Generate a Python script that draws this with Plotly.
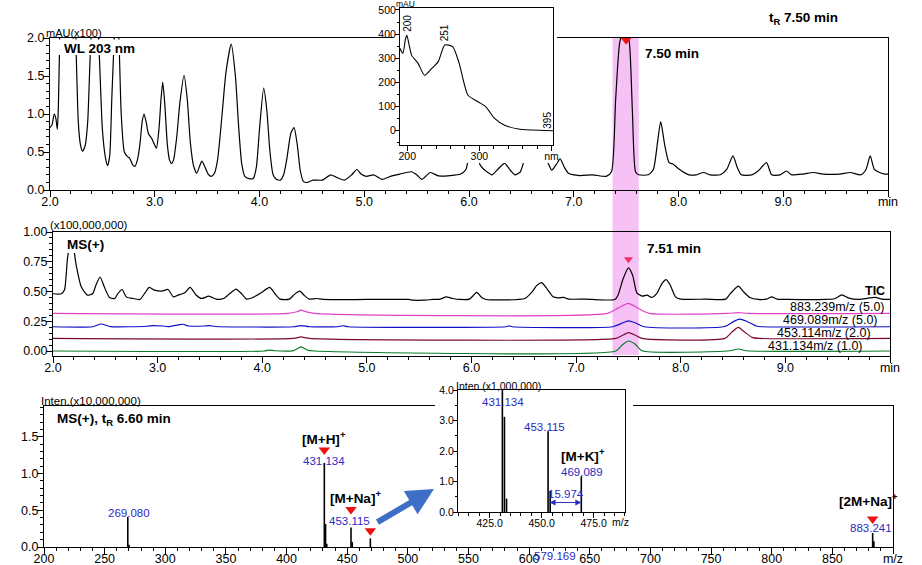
import plotly.graph_objects as go

W, H = 922, 565
def px(x): return x / W
def py(y): return 1 - y / H

# ---------------- DATA ----------------
# UV chromatogram (WL 203 nm), mAU x100
uv_time = [2.00, 2.02, 2.04, 2.055, 2.07, 2.08, 2.09, 2.11, 2.17, 2.23, 2.25, 2.27, 2.29, 2.31, 2.335, 2.36,
           2.385, 2.43, 2.47, 2.50, 2.53, 2.55, 2.57, 2.59, 2.61, 2.635, 2.66, 2.68, 2.71, 2.74, 2.76, 2.79,
           2.81, 2.835, 2.86, 2.88, 2.898, 2.92, 2.94, 2.97, 2.99, 3.016, 3.04, 3.06, 3.076, 3.095, 3.12,
           3.14, 3.16, 3.18, 3.21, 3.24, 3.28, 3.31, 3.34, 3.37, 3.40, 3.43, 3.45, 3.48, 3.51, 3.54, 3.57,
           3.60, 3.64, 3.68, 3.73, 3.77, 3.80, 3.83, 3.86, 3.90, 3.94, 3.97, 4.00, 4.04, 4.07, 4.10, 4.13,
           4.16, 4.20, 4.23, 4.26, 4.30, 4.33, 4.36, 4.39, 4.42, 4.46, 4.51, 4.60, 4.68, 4.73, 4.81, 4.88,
           4.93, 4.97, 5.02, 5.09, 5.17, 5.25, 5.34, 5.45, 5.50, 5.55, 5.63, 5.71, 5.82, 5.92, 5.97, 6.00,
           6.04, 6.08, 6.11, 6.17, 6.22, 6.28, 6.34, 6.40, 6.44, 6.49, 6.53, 6.60, 6.68, 6.74, 6.79, 6.83,
           6.87, 6.91, 6.95, 7.06, 7.18, 7.31, 7.36, 7.40, 7.44, 7.49, 7.53, 7.56, 7.59, 7.62, 7.71, 7.76,
           7.80, 7.83, 7.87, 7.91, 7.95, 8.00, 8.10, 8.17, 8.24, 8.30, 8.40, 8.46, 8.52, 8.56, 8.60, 8.70,
           8.76, 8.84, 8.89, 8.97, 9.03, 9.08, 9.19, 9.29, 9.38, 9.54, 9.64, 9.74, 9.79, 9.83, 9.87, 9.92,
           9.97, 10.0]
uv_abs = [0.82, 0.86, 1.00, 0.95, 0.80, 1.10, 1.80, 2.80, 3.00, 2.80, 1.80, 0.90, 0.60, 0.51, 0.58, 0.90,
          1.80, 2.80, 1.80, 0.80, 0.42, 0.32, 0.45, 1.20, 1.90, 2.60, 1.90, 1.00, 0.50, 0.44, 0.42, 0.33,
          0.31, 0.40, 0.62, 0.90, 1.00, 0.88, 0.74, 0.68, 0.62, 0.55, 0.80, 1.20, 1.42, 1.15, 0.60,
          0.40, 0.35, 0.40, 0.70, 1.15, 1.51, 1.20, 0.62, 0.32, 0.22, 0.32, 0.38, 0.30, 0.21, 0.18, 0.22,
          0.40, 0.95, 1.55, 1.92, 1.50, 0.85, 0.35, 0.18, 0.15, 0.15, 0.30, 0.80, 1.34, 1.05, 0.50, 0.20,
          0.14, 0.13, 0.20, 0.40, 0.75, 0.82, 0.60, 0.25, 0.11, 0.10, 0.13, 0.13, 0.20, 0.17, 0.13, 0.20,
          0.27, 0.21, 0.18, 0.20, 0.14, 0.18, 0.21, 0.24, 0.20, 0.14, 0.23, 0.185, 0.19, 0.21, 0.27, 0.45,
          0.65, 0.45, 0.32, 0.24, 0.20, 0.28, 0.35, 0.25, 0.20, 0.24, 0.40, 0.60, 0.50, 0.40, 0.26, 0.33,
          0.41, 0.30, 0.22, 0.19, 0.20, 0.18, 0.24, 1.19, 1.95, 2.15, 1.95, 1.03, 0.24, 0.20, 0.20, 0.27,
          0.63, 0.90, 0.58, 0.36, 0.34, 0.28, 0.20, 0.20, 0.23, 0.20, 0.20, 0.27, 0.45, 0.30, 0.20, 0.20,
          0.25, 0.36, 0.20, 0.20, 0.25, 0.20, 0.21, 0.23, 0.21, 0.21, 0.23, 0.20, 0.27, 0.45, 0.27, 0.23,
          0.21, 0.21]
uv_peak_time = [7.50]
uv_peak_level = [1.97]

# UV spectrum of the 7.50 min peak (inset)
spec_nm = [190, 194, 197.6, 199.5, 203, 206, 215, 224, 234, 243, 252, 263, 272, 284, 298, 309, 321, 335,
           354, 373, 403]
spec_mau = [341, 320, 380, 395, 350, 313, 279, 230, 258, 286, 355, 348, 279, 148, 120, 99, 51, 23, 7, 3, 0]

# MS chromatograms (x100,000,000)
tic_t = [2.00, 2.08, 2.11, 2.14, 2.18, 2.22, 2.27, 2.33, 2.38, 2.41, 2.45, 2.49, 2.54, 2.59, 2.62, 2.66,
         2.70, 2.765, 2.83, 2.88, 2.92, 2.97, 3.04, 3.10, 3.15, 3.195, 3.26, 3.31, 3.37, 3.42, 3.49, 3.56,
         3.63, 3.69, 3.75, 3.80, 3.85, 3.91, 3.99, 4.07, 4.12, 4.17, 4.26, 4.31, 4.36, 4.40, 4.45, 4.52,
         4.58, 5.00, 5.40, 5.44, 5.54, 5.63, 5.70, 5.76, 5.82, 5.89, 5.98, 6.02, 6.05, 6.10, 6.14, 6.51,
         6.58, 6.62, 6.67, 6.72, 6.78, 6.83, 6.88, 6.93, 7.09, 7.15, 7.37, 7.40, 7.45, 7.50, 7.54, 7.58,
         7.63, 7.68, 7.72, 7.77, 7.82, 7.86, 7.90, 7.95, 8.00, 8.24, 8.43, 8.47, 8.55, 8.60, 8.66, 8.74,
         8.82, 8.87, 8.92, 9.03, 9.38, 9.47, 9.54, 9.60, 9.70, 9.86, 9.92, 10.0]
tic_v = [0.481, 0.481, 0.514, 0.79, 0.95, 0.73, 0.54, 0.469, 0.483, 0.553, 0.622, 0.539, 0.450, 0.441,
         0.483, 0.517, 0.455, 0.441, 0.433, 0.489, 0.534, 0.511, 0.503, 0.517, 0.455, 0.469, 0.489, 0.534,
         0.469, 0.441, 0.461, 0.436, 0.441, 0.483, 0.520, 0.483, 0.436, 0.450, 0.489, 0.534, 0.483, 0.436,
         0.436, 0.478, 0.503, 0.469, 0.436, 0.441, 0.433, 0.433, 0.433, 0.427, 0.427, 0.433, 0.436, 0.455,
         0.441, 0.433, 0.436, 0.469, 0.492, 0.447, 0.433, 0.441, 0.497, 0.547, 0.575, 0.525, 0.455, 0.447,
         0.450, 0.436, 0.436, 0.433, 0.433, 0.469, 0.609, 0.698, 0.637, 0.489, 0.461, 0.469, 0.450, 0.483,
         0.567, 0.600, 0.553, 0.455, 0.436, 0.436, 0.436, 0.478, 0.545, 0.497, 0.450, 0.433, 0.436, 0.455,
         0.436, 0.433, 0.433, 0.439, 0.472, 0.447, 0.433, 0.450, 0.436, 0.433]
tic_peak_time = [7.50]
tic_peak_level = [0.77]

mz883_t = [2.0, 4.25, 4.33, 4.37, 4.42, 4.50, 7.30, 7.40, 7.50, 7.60, 7.70, 8.45, 8.55, 8.65, 10.0]
mz883_v = [0.316, 0.316, 0.330, 0.343, 0.330, 0.316, 0.316, 0.360, 0.400, 0.355, 0.316, 0.316, 0.322,
           0.316, 0.316]

mz469_t = [2.0, 2.38, 2.46, 2.55, 2.90, 2.95, 3.05, 3.10, 3.20, 3.24, 3.30, 3.45, 3.50, 3.55, 4.30, 4.37,
           4.45, 4.72, 4.77, 4.82, 6.33, 6.36, 6.39, 7.35, 7.43, 7.50, 7.57, 7.65, 8.42, 8.50, 8.56, 8.63,
           8.72, 8.78, 10.0]
mz469_v = [0.204, 0.204, 0.227, 0.205, 0.208, 0.213, 0.210, 0.205, 0.220, 0.225, 0.210, 0.210, 0.213,
           0.206, 0.204, 0.213, 0.204, 0.204, 0.212, 0.204, 0.204, 0.211, 0.204, 0.204, 0.230, 0.254,
           0.235, 0.204, 0.206, 0.245, 0.268, 0.250, 0.210, 0.204, 0.204]

mz453_t = [2.0, 4.30, 4.37, 4.45, 7.38, 7.44, 7.50, 7.56, 7.63, 8.42, 8.49, 8.55, 8.61, 8.68, 8.75, 10.0]
mz453_v = [0.106, 0.106, 0.118, 0.106, 0.106, 0.130, 0.154, 0.135, 0.106, 0.106, 0.160, 0.198, 0.160,
           0.115, 0.106, 0.106]

mz431_t = [2.0, 4.02, 4.07, 4.12, 4.30, 4.37, 4.44, 4.50, 7.38, 7.44, 7.50, 7.56, 7.63, 8.47, 8.55, 8.63,
           10.0]
mz431_v = [0.0, 0.0, 0.008, 0.002, 0.003, 0.034, 0.005, 0.0, 0.0, 0.050, 0.084, 0.060, 0.002, 0.002,
           0.017, 0.002, 0.0]

# MS spectrum at tR 6.60 min (x10,000,000); inset is the same data in x1,000,000
ms_mz = [269.080, 270.08, 431.134, 432.14, 433.14, 453.115, 454.12, 469.089, 883.241, 884.24]
ms_int = [0.41, 0.03, 1.145, 0.312, 0.044, 0.265, 0.069, 0.117, 0.19, 0.08]
ms_mark_mz = [431.134, 453.115, 469.089, 883.241]
ms_mark_y = [1.32, 0.51, 0.22, 0.38]

# ---------------- FIGURE ----------------
FONT = "Liberation Sans, Arial, sans-serif"
fig = go.Figure()

def line(x, y, xa, ya, color="black", width=1.2, shape="spline"):
    fig.add_trace(go.Scatter(x=x, y=y, xaxis=xa, yaxis=ya, mode="lines",
                             line=dict(color=color, width=width, shape=shape, smoothing=0.6),
                             hoverinfo="skip", showlegend=False))

def tri(x, y, xa, ya, color="#ee1111", size=9):
    fig.add_trace(go.Scatter(x=x, y=y, xaxis=xa, yaxis=ya, mode="markers", cliponaxis=False,
                             marker=dict(symbol="triangle-down", color=color, size=size, line_width=0),
                             hoverinfo="skip", showlegend=False))

def sticks(mz, inten, scale, xa, ya, width=1.6):
    xs, ys = [], []
    for m, v in zip(mz, inten):
        xs += [m, m, None]
        ys += [0, v * scale, None]
    fig.add_trace(go.Scatter(x=xs, y=ys, xaxis=xa, yaxis=ya, mode="lines",
                             line=dict(color="black", width=width), hoverinfo="skip", showlegend=False))

# 1 top UV chromatogram
line(uv_time, uv_abs, "x", "y")
tri(uv_peak_time, uv_peak_level, "x", "y")
# 2 MS chromatograms
line(mz431_t, mz431_v, "x2", "y2", "#0a7a2a")
line(mz453_t, mz453_v, "x2", "y2", "#7a0a28")
line(mz469_t, mz469_v, "x2", "y2", "#1010c8")
line(mz883_t, mz883_v, "x2", "y2", "#e040c8")
line(tic_t, tic_v, "x2", "y2", "black")
tri(tic_peak_time, tic_peak_level, "x2", "y2", "#f0306a", 8)
# 3 MS spectrum
sticks(ms_mz, ms_int, 1, "x3", "y3")
tri(ms_mark_mz, ms_mark_y, "x3", "y3", "#ee1111", 10)
# 4 cover for top inset (empty)
fig.add_trace(go.Scatter(x=[None], y=[None], xaxis="x4", yaxis="y4", mode="lines",
                         hoverinfo="skip", showlegend=False))
# 5 top inset spectrum
line(spec_nm, spec_mau, "x5", "y5", width=1.1)
# 6 cover for bottom inset
fig.add_trace(go.Scatter(x=[None], y=[None], xaxis="x6", yaxis="y6", mode="lines",
                         hoverinfo="skip", showlegend=False))
# 7 bottom inset spectrum
sticks(ms_mz, ms_int, 10, "x7", "y7", width=1.6)

tickfont = dict(family=FONT, size=12.5, color="black")
smallfont = dict(family=FONT, size=10.5, color="black")

def axis(dom, rng, standoff=-6, **kw):
    d = dict(domain=dom, range=rng, showline=True, linecolor="black", linewidth=1, mirror=True,
             ticks="outside", ticklen=6, tickcolor="black", tickwidth=1, showgrid=False, zeroline=False,
             tickfont=tickfont, fixedrange=True, automargin=False, ticklabelstandoff=standoff)
    d.update(kw)
    return d

def hidden(dom, anchor):
    return dict(domain=dom, range=[0, 1], anchor=anchor, visible=False, fixedrange=True, automargin=False,
                showgrid=False, zeroline=False)

t_vals = [2, 3, 4, 5, 6, 7, 8, 9, 10]
t_text = ["2.0", "3.0", "4.0", "5.0", "6.0", "7.0", "8.0", "9.0", "min"]
minor_t = dict(ticks="outside", dtick=0.2, ticklen=3, tickcolor="black")

fig.update_layout(
    template="none",
    width=W, height=H, margin=dict(l=0, r=0, t=0, b=0, pad=0, autoexpand=False),
    paper_bgcolor="white", plot_bgcolor="white", showlegend=False,
    font=dict(family=FONT, color="black"),
    xaxis=axis([px(50), px(888)], [2.0, 10.0], anchor="y", tickvals=t_vals, ticktext=t_text, minor=minor_t),
    yaxis=axis([py(190), py(38)], [0, 2.0], standoff=-4, anchor="x", tickvals=[0, 0.5, 1.0, 1.5, 2.0],
               tickformat=".1f", minor=dict(ticks="outside", dtick=0.1, ticklen=3, tickcolor="black")),
    xaxis2=axis([px(53), px(890)], [2.0, 10.0], anchor="y2", tickvals=t_vals, ticktext=t_text, minor=minor_t),
    yaxis2=axis([py(356), py(232)], [-0.042, 1.0], standoff=-4, anchor="x2",
                tickvals=[0, 0.25, 0.5, 0.75, 1.0], tickformat=".2f",
                minor=dict(ticks="outside", dtick=0.05, ticklen=3, tickcolor="black")),
    xaxis3=axis([px(44), px(893)], [200, 900], anchor="y3",
                tickvals=list(range(200, 901, 50)),
                ticktext=[str(v) for v in range(200, 900, 50)] + ["m/z"],
                minor=dict(ticks="outside", dtick=10, ticklen=3, tickcolor="black")),
    yaxis3=axis([py(547), py(406)], [0, 1.92], standoff=-4, anchor="x3", tickvals=[0, 0.5, 1.0, 1.5],
                tickformat=".1f", minor=dict(ticks="outside", dtick=0.1, ticklen=3, tickcolor="black")),
    xaxis4=hidden([px(393), px(557)], "y4"),
    yaxis4=hidden([py(163), py(0)], "x4"),
    xaxis5=axis([px(400), px(553)], [190, 402], standoff=-4, anchor="y5", tickvals=[200, 300, 400],
                ticktext=["200", "300", "nm"], ticklen=5, tickfont=smallfont,
                minor=dict(ticks="outside", dtick=20, ticklen=3, tickcolor="black")),
    yaxis5=axis([py(145), py(8)], [-59, 508], standoff=-3, anchor="x5", tickvals=[0, 100, 200, 300, 400, 500],
                ticklen=4, tickfont=smallfont,
                minor=dict(ticks="outside", dtick=50, ticklen=2, tickcolor="black")),
    xaxis6=hidden([px(435), px(633)], "y6"),
    yaxis6=hidden([py(537), py(378)], "x6"),
    xaxis7=axis([px(458), px(625)], [409.8, 490.1], standoff=-4, anchor="y7", tickvals=[425, 450, 475],
                tickformat=".1f", ticklen=5, tickfont=smallfont,
                minor=dict(ticks="outside", dtick=5, ticklen=3, tickcolor="black")),
    yaxis7=axis([py(512), py(390)], [0, 4.0], standoff=-3, anchor="x7", tickvals=[0, 1, 2, 3, 4],
                tickformat=".1f", ticklen=4, tickfont=smallfont,
                minor=dict(ticks="outside", dtick=0.5, ticklen=2, tickcolor="black")),
)

# highlighted retention window (behind traces)
fig.add_shape(type="rect", xref="x", yref="paper", x0=7.37, x1=7.62, y0=py(355), y1=py(38),
              fillcolor="#f6c2f6", line_width=0, layer="below")
# white label backgrounds covering over-range peaks
fig.add_shape(type="rect", xref="paper", yref="paper", x0=px(51), x1=px(137), y0=py(55), y1=py(39.5),
              fillcolor="white", line_width=0, layer="above")
fig.add_shape(type="rect", xref="paper", yref="paper", x0=px(54), x1=px(110), y0=py(253), y1=py(233),
              fillcolor="white", line_width=0, layer="above")

anns = []
def txt(text, x, y, xanchor="left", size=12, bold=False, color="black", yanchor="middle"):
    if bold:
        text = "<b>" + text + "</b>"
    anns.append(dict(text=text, x=px(x), y=py(y), xref="paper", yref="paper", xanchor=xanchor,
                     yanchor=yanchor, showarrow=False, font=dict(family=FONT, size=size, color=color)))

def dtxt(text, x, y, xa, ya, size=11.5, color="#2b2bbf", bold=False, xanchor="center"):
    if bold:
        text = "<b>" + text + "</b>"
    anns.append(dict(text=text, x=x, y=y, xref=xa, yref=ya, xanchor=xanchor, yanchor="middle",
                     showarrow=False, font=dict(family=FONT, size=size, color=color)))

# top panel
txt("mAU(x100)", 44, 33, size=11)
txt("WL 203 nm", 62, 49, size=13.5, bold=True)
txt("7.50 min", 643, 53, size=13.5, bold=True)
txt("t<sub>R</sub> 7.50 min", 767, 18, size=13.5, bold=True)
txt("mAU", 394, 4, size=8.5)
anns.append(dict(text="200", x=200, y=400, xref="x5", yref="y5", textangle=-90, showarrow=False,
                 xanchor="center", yanchor="bottom", font=dict(family=FONT, size=10)))
anns.append(dict(text="251", x=251, y=360, xref="x5", yref="y5", textangle=-90, showarrow=False,
                 xanchor="center", yanchor="bottom", font=dict(family=FONT, size=10)))
anns.append(dict(text="395", x=395, y=2, xref="x5", yref="y5", textangle=-90, showarrow=False,
                 xanchor="center", yanchor="bottom", font=dict(family=FONT, size=10)))

# middle panel
txt("(x100,000,000)", 48, 225, size=11.5)
txt("MS(+)", 65, 244, size=13.5, bold=True)
txt("7.51 min", 645, 248, size=13.5, bold=True)
txt("TIC", 887, 291, xanchor="right", size=12.5, bold=True)
txt("883.239m/z (5.0)", 887, 307, xanchor="right", size=12.5)
txt("469.089m/z (5.0)", 880, 320, xanchor="right", size=12.5)
txt("453.114m/z (2.0)", 873, 333, xanchor="right", size=12.5)
txt("431.134m/z (1.0)", 865, 346, xanchor="right", size=12.5)

# bottom panel
txt("Inten.(x10,000,000)", 39, 401, size=11.5)
txt("MS(+), t<sub>R</sub> 6.60 min", 55, 419, size=13.5, bold=True)
dtxt("269.080", 269.8, 0.46, "x3", "y3")
dtxt("[M+H]<sup>+</sup>", 431.2, 1.49, "x3", "y3", size=13.5, color="black", bold=True)
dtxt("431.134", 431.134, 1.17, "x3", "y3")
dtxt("[M+Na]<sup>+</sup>", 457, 0.68, "x3", "y3", size=13.5, color="black", bold=True)
dtxt("453.115", 451.8, 0.36, "x3", "y3")
dtxt("[2M+Na]<sup>+</sup>", 880, 0.64, "x3", "y3", size=13.5, color="black", bold=True)
dtxt("883.241", 881.7, 0.255, "x3", "y3")
txt("579.169", 555, 556, xanchor="center", size=11.5, color="#2b2bbf")
# inset labels
txt("Inten.(x1,000,000)", 454, 386, size=10.5)
txt("m/z", 620, 522, xanchor="center", size=10.5)
dtxt("431.134", 431.6, 3.61, "x7", "y7")
dtxt("453.115", 451.5, 2.8, "x7", "y7")
dtxt("[M+K]<sup>+</sup>", 470, 1.87, "x7", "y7", size=13.5, color="black", bold=True)
dtxt("469.089", 469.3, 1.32, "x7", "y7")
dtxt("15.974", 461.5, 0.58, "x7", "y7")
anns.append(dict(x=469.089, y=0.31, ax=453.115, ay=0.31, xref="x7", yref="y7", axref="x7", ayref="y7",
                 text="", showarrow=True, arrowside="end+start", arrowhead=2, arrowsize=1.2,
                 arrowwidth=1, arrowcolor="#2b2bbf"))
# big blue arrow pointing to the inset
anns.append(dict(x=px(434), y=py(489), xref="paper", yref="paper", ax=-58, ay=34, text="",
                 showarrow=True, arrowhead=2, arrowsize=0.9, arrowwidth=6, arrowcolor="#3d6fc8"))

fig.update_layout(annotations=anns)
fig.write_html("out.html", config={"displayModeBar": False, "staticPlot": True},
               post_script="document.body.style.margin='0px';document.body.style.overflow='hidden';")
